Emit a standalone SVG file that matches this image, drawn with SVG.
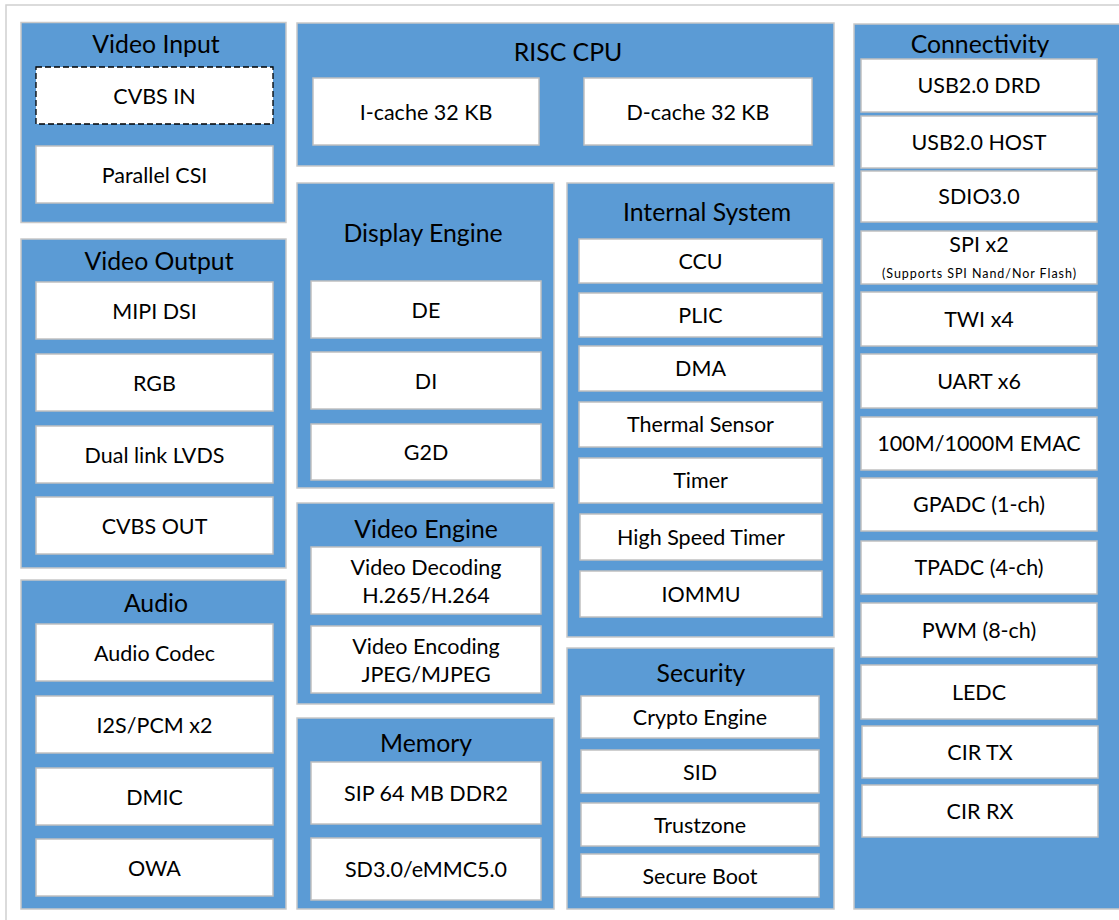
<svg xmlns="http://www.w3.org/2000/svg" width="1119" height="920" viewBox="0 0 1119 920">
<style>
.frame{fill:#fff;stroke:#d0d0d0;stroke-width:1.5}
.panel{fill:#5b9bd5;stroke:#c8c8c8;stroke-width:1.5}
.box{fill:#fff;stroke:#c0c0c0;stroke-width:1.5}
.dash{fill:#fff;stroke:#000;stroke-width:1.3;stroke-dasharray:6 3}
text{font-family:Lato,"Open Sans",sans-serif;fill:#000;text-anchor:middle}
.t{font-size:24.8px}
.b{font-size:21.5px}
.s{font-size:12.5px}
</style>
<rect width="1119" height="920" fill="#fff"/>
<rect class="frame" x="6" y="5" width="1130" height="930"/>

<g id="video-input">
<rect class="panel" x="21" y="22.5" width="265" height="200"/>
<text class="t" x="156" y="53">Video Input</text>
<rect class="dash" x="36" y="67" width="237" height="57"/>
<text class="b" x="154.5" y="103.5">CVBS IN</text>
<rect class="box" x="36" y="146" width="237" height="57"/>
<text class="b" x="154.5" y="182.5">Parallel CSI</text>
</g>

<g id="video-output">
<rect class="panel" x="21" y="239" width="265" height="329"/>
<text class="t" x="159" y="270">Video Output</text>
<rect class="box" x="36" y="282" width="237" height="57"/>
<text class="b" x="154.5" y="318.5">MIPI DSI</text>
<rect class="box" x="36" y="354" width="237" height="57"/>
<text class="b" x="154.5" y="390.5">RGB</text>
<rect class="box" x="36" y="426" width="237" height="57"/>
<text class="b" x="154.5" y="462.5">Dual link LVDS</text>
<rect class="box" x="36" y="497" width="237" height="57"/>
<text class="b" x="154.5" y="533.5">CVBS OUT</text>
</g>

<g id="audio">
<rect class="panel" x="21" y="580" width="265" height="329"/>
<text class="t" x="156" y="612">Audio</text>
<rect class="box" x="36" y="624" width="237" height="57"/>
<text class="b" x="154.5" y="660.5">Audio Codec</text>
<rect class="box" x="36" y="696" width="237" height="57"/>
<text class="b" x="154.5" y="732.5">I2S/PCM x2</text>
<rect class="box" x="36" y="768" width="237" height="57"/>
<text class="b" x="154.5" y="804.5">DMIC</text>
<rect class="box" x="36" y="839" width="237" height="57"/>
<text class="b" x="154.5" y="875.5">OWA</text>
</g>

<g id="risc-cpu">
<rect class="panel" x="297" y="23" width="537" height="143"/>
<text class="t" x="568" y="61">RISC CPU</text>
<rect class="box" x="313" y="78" width="226" height="67"/>
<text class="b" x="426" y="119.5">I-cache 32 KB</text>
<rect class="box" x="584" y="78" width="228" height="67"/>
<text class="b" x="698" y="119.5">D-cache 32 KB</text>
</g>

<g id="display-engine">
<rect class="panel" x="297" y="183" width="257" height="305"/>
<text class="t" x="423" y="242">Display Engine</text>
<rect class="box" x="311" y="281" width="230" height="57"/>
<text class="b" x="426" y="317.5">DE</text>
<rect class="box" x="311" y="352" width="230" height="57"/>
<text class="b" x="426" y="388.5">DI</text>
<rect class="box" x="311" y="424" width="230" height="56"/>
<text class="b" x="426" y="459.5">G2D</text>
</g>

<g id="video-engine">
<rect class="panel" x="297" y="503" width="257" height="201"/>
<text class="t" x="426" y="538">Video Engine</text>
<rect class="box" x="311" y="547" width="230" height="67"/>
<text class="b" x="426" y="575">Video Decoding</text>
<text class="b" x="426" y="603">H.265/H.264</text>
<rect class="box" x="311" y="626" width="230" height="67"/>
<text class="b" x="426" y="654">Video Encoding</text>
<text class="b" x="426" y="682">JPEG/MJPEG</text>
</g>

<g id="memory">
<rect class="panel" x="297" y="718" width="257" height="191"/>
<text class="t" x="426" y="752">Memory</text>
<rect class="box" x="311" y="762" width="230" height="62"/>
<text class="b" x="426" y="800.5">SIP 64 MB DDR2</text>
<rect class="box" x="311" y="838" width="230" height="62"/>
<text class="b" x="426" y="876.5">SD3.0/eMMC5.0</text>
</g>

<g id="internal-system">
<rect class="panel" x="567" y="183" width="267" height="454"/>
<text class="t" x="707" y="221">Internal System</text>
<rect class="box" x="579" y="239" width="243" height="44"/>
<text class="b" x="700.5" y="268.5">CCU</text>
<rect class="box" x="579" y="293" width="243" height="44"/>
<text class="b" x="700.5" y="322.5">PLIC</text>
<rect class="box" x="579" y="346" width="243" height="45"/>
<text class="b" x="700.5" y="375.5">DMA</text>
<rect class="box" x="579" y="402" width="243" height="45"/>
<text class="b" x="700.5" y="431.5">Thermal Sensor</text>
<rect class="box" x="579" y="458" width="243" height="45"/>
<text class="b" x="700.5" y="487.5">Timer</text>
<rect class="box" x="580" y="514" width="242" height="46"/>
<text class="b" x="701" y="544.5">High Speed Timer</text>
<rect class="box" x="580" y="571" width="242" height="46"/>
<text class="b" x="701" y="601.5">IOMMU</text>
</g>

<g id="security">
<rect class="panel" x="567" y="648" width="267" height="261"/>
<text class="t" x="701" y="682">Security</text>
<rect class="box" x="581" y="696" width="238" height="42"/>
<text class="b" x="700" y="724.5">Crypto Engine</text>
<rect class="box" x="581" y="750" width="238" height="43"/>
<text class="b" x="700" y="779.5">SID</text>
<rect class="box" x="581" y="803" width="238" height="43"/>
<text class="b" x="700" y="832.5">Trustzone</text>
<rect class="box" x="581" y="854" width="238" height="43"/>
<text class="b" x="700" y="883.5">Secure Boot</text>
</g>

<g id="connectivity">
<rect class="panel" x="854" y="24" width="280" height="885"/>
<text class="t" x="980" y="53">Connectivity</text>
<rect class="box" x="861" y="59" width="236" height="53"/>
<text class="b" x="979" y="92.5">USB2.0 DRD</text>
<rect class="box" x="861" y="116" width="236" height="52"/>
<text class="b" x="979" y="149.5">USB2.0 HOST</text>
<rect class="box" x="861" y="171" width="236" height="51"/>
<text class="b" x="979" y="203.5">SDIO3.0</text>
<rect class="box" x="861" y="231" width="236" height="53"/>
<text class="b" x="979" y="251.5">SPI x2</text>
<text class="s" x="979" y="278" textLength="194">(Supports SPI Nand/Nor Flash)</text>
<rect class="box" x="861" y="292" width="236" height="54"/>
<text class="b" x="979" y="326.5">TWI x4</text>
<rect class="box" x="861" y="354" width="236" height="54"/>
<text class="b" x="979" y="388.5">UART x6</text>
<rect class="box" x="861" y="417" width="236" height="53"/>
<text class="b" x="979" y="450.5">100M/1000M EMAC</text>
<rect class="box" x="861" y="478" width="236" height="53"/>
<text class="b" x="979" y="511.5">GPADC (1-ch)</text>
<rect class="box" x="861" y="541" width="236" height="53"/>
<text class="b" x="979" y="574.5">TPADC (4-ch)</text>
<rect class="box" x="861" y="603" width="236" height="54"/>
<text class="b" x="979" y="637.5">PWM (8-ch)</text>
<rect class="box" x="861" y="665" width="236" height="54"/>
<text class="b" x="979" y="699.5">LEDC</text>
<rect class="box" x="862" y="726" width="236" height="52"/>
<text class="b" x="980" y="759.5">CIR TX</text>
<rect class="box" x="862" y="785" width="236" height="52"/>
<text class="b" x="980" y="818.5">CIR RX</text>
</g>

<g id="connectors"></g>
</svg>
